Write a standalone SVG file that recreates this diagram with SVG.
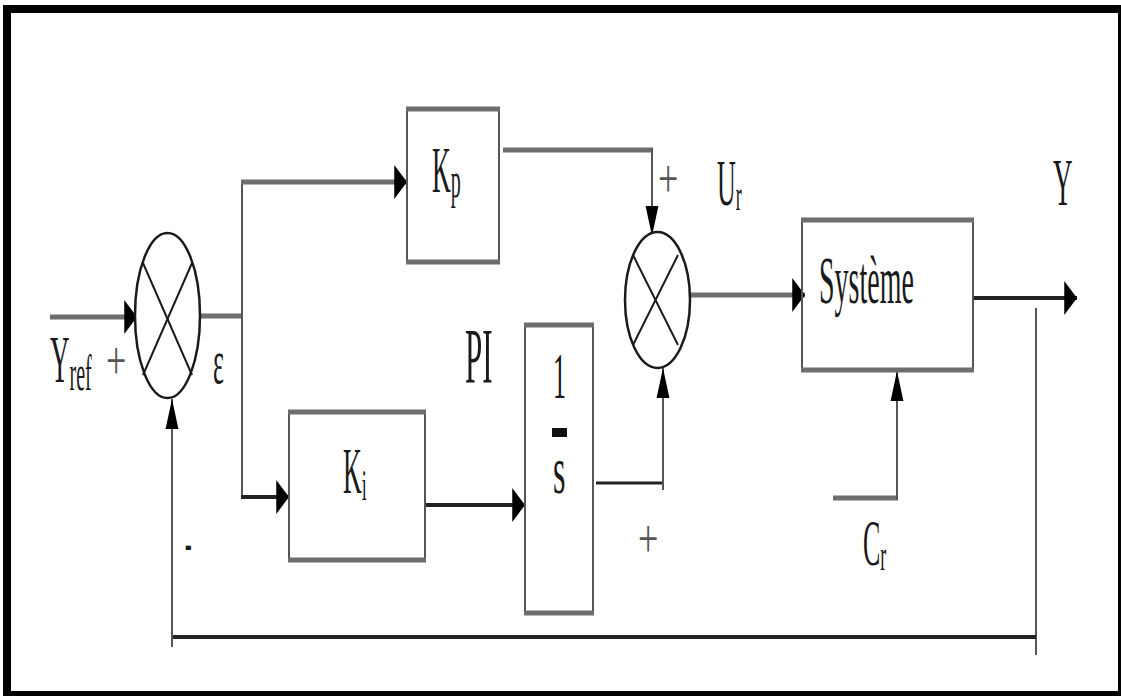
<svg xmlns="http://www.w3.org/2000/svg" width="1121" height="696" viewBox="0 0 1121 696">
  <style>
    .t { font-family: "Liberation Serif", "Times New Roman", serif; fill: #1a1a1a; }
    .thick { stroke: #6e6e6e; stroke-width: 5; fill: none; }
    .dark { stroke: #222; stroke-width: 4; fill: none; }
    .thin { stroke: #555; stroke-width: 2; fill: none; }
    .side { stroke: #555; stroke-width: 2; fill: none; }
    .edge { stroke: #6e6e6e; stroke-width: 5; fill: none; }
    .sum { stroke: #1a1a1a; stroke-width: 2.5; fill: #fff; }
    .cross { stroke: #1a1a1a; stroke-width: 2; }
    .plus { font-family: "Liberation Serif", "Times New Roman", serif; fill: #555; font-size: 36px; }
  </style>
  <defs>
    <marker id="ah" markerUnits="userSpaceOnUse" markerWidth="14" markerHeight="34" viewBox="0 0 12 32" refX="12" refY="16" orient="auto">
      <path d="M0,0 L12,16 L0,32 Z" fill="#000"/>
    </marker>
    <marker id="av" markerUnits="userSpaceOnUse" markerWidth="30" markerHeight="14" viewBox="0 0 28 12" refX="28" refY="6" orient="auto">
      <path d="M0,0 L28,6 L0,12 Z" fill="#000"/>
    </marker>
  </defs>
  <rect x="0" y="0" width="1121" height="696" fill="#fff"/>
  <rect x="7" y="9" width="1115" height="686" fill="none" stroke="#000" stroke-width="8"/>

  <g id="connectors">
    <line class="thick" x1="50" y1="317" x2="137" y2="317" marker-end="url(#ah)"/>
    <line class="thick" x1="200" y1="316" x2="243" y2="316"/>
    <line class="thin" x1="242" y1="181" x2="242" y2="498"/>
    <line class="thick" x1="241" y1="182" x2="407" y2="182" marker-end="url(#ah)"/>
    <line class="dark" x1="241" y1="497" x2="289" y2="497" marker-end="url(#ah)"/>
    <line class="thick" x1="503" y1="150" x2="653" y2="150"/>
    <line class="thin" x1="652" y1="148" x2="652" y2="236" marker-end="url(#av)"/>
    <line class="dark" x1="425" y1="505" x2="525" y2="505" marker-end="url(#ah)"/>
    <line class="dark" x1="596" y1="483" x2="664" y2="483" style="stroke-width:3"/>
    <line class="thin" x1="663" y1="490" x2="663" y2="368" marker-end="url(#av)"/>
    <line class="thick" x1="690" y1="295" x2="805" y2="295" marker-end="url(#ah)"/>
    <line class="dark" x1="973" y1="298" x2="1077" y2="298" marker-end="url(#ah)"/>
    <line class="thin" x1="1036" y1="308" x2="1036" y2="655"/>
    <line class="dark" x1="1036" y1="637" x2="172" y2="637"/>
    <line class="thin" x1="172" y1="647" x2="172" y2="399" marker-end="url(#av)"/>
    <line class="thick" x1="833" y1="498" x2="898" y2="498"/>
    <line class="thin" x1="897" y1="500" x2="897" y2="371" marker-end="url(#av)"/>
  </g>

  <g id="sum1">
    <ellipse class="sum" cx="167.5" cy="315.5" rx="32.5" ry="82.5"/>
    <line class="cross" x1="143" y1="263" x2="192" y2="375"/>
    <line class="cross" x1="192" y1="263" x2="143" y2="375"/>
  </g>

  <g id="sum2">
    <ellipse class="sum" cx="657.5" cy="300" rx="32.5" ry="68"/>
    <line class="cross" x1="633" y1="255" x2="678" y2="345"/>
    <line class="cross" x1="678" y1="255" x2="633" y2="345"/>
  </g>

  <g id="kp">
    <rect x="407" y="109" width="92" height="153" fill="#fff" class="side"/>
    <line class="edge" x1="406" y1="109" x2="500" y2="109"/>
    <line class="edge" x1="406" y1="262" x2="500" y2="262"/>
    <text class="t" transform="translate(432,192) scale(1,2.5)" font-size="26">K<tspan font-size="20" dy="2">p</tspan></text>
  </g>

  <g id="ki">
    <rect x="289" y="412" width="136" height="148" fill="#fff" class="side"/>
    <line class="edge" x1="288" y1="412" x2="426" y2="412"/>
    <line class="edge" x1="288" y1="560" x2="426" y2="560"/>
    <text class="t" transform="translate(343,493) scale(1,2.5)" font-size="26">K<tspan font-size="18" dy="2.8">i</tspan></text>
  </g>

  <g id="integrator">
    <rect x="525" y="325" width="68" height="288" fill="#fff" class="side"/>
    <line class="edge" x1="524" y1="325" x2="594" y2="325"/>
    <line class="edge" x1="524" y1="613" x2="594" y2="613"/>
    <text class="t" transform="translate(553,398) scale(1,2.5)" font-size="26">1</text>
    <rect x="552" y="428" width="15" height="9" fill="#111"/>
    <text class="t" transform="translate(553,493) scale(1,2.1)" font-size="32">s</text>
  </g>

  <g id="systeme">
    <rect x="802" y="220" width="171" height="150" fill="#fff" class="side"/>
    <line class="edge" x1="801" y1="220" x2="974" y2="220"/>
    <line class="edge" x1="801" y1="370" x2="974" y2="370"/>
    <text class="t" transform="translate(819,303) scale(1,2.4)" font-size="28">Système</text>
  </g>

  <g id="labels">
    <text class="t" transform="translate(50,382) scale(1,2.5)" font-size="27">Y<tspan font-size="20" dy="3.2">ref</tspan></text>
    <text class="plus" transform="translate(106,379) scale(1,1.5)">+</text>
    <text class="t" transform="translate(213,383) scale(1,2.4)" font-size="26">ε</text>
    <text class="t" transform="translate(185,560) scale(1,2.5)" font-size="20" font-weight="bold">-</text>
    <text class="t" transform="translate(465,382) scale(1,2.5)" font-size="31">PI</text>
    <text class="plus" transform="translate(638,557) scale(1,1.5)">+</text>
    <text class="plus" transform="translate(658,197) scale(1,1.5)">+</text>
    <text class="t" transform="translate(717,205) scale(1,2.5)" font-size="26">U<tspan font-size="18" dy="2">r</tspan></text>
    <text class="t" transform="translate(1053,205) scale(1,2.5)" font-size="27">Y</text>
    <text class="t" transform="translate(863,565) scale(1,2.5)" font-size="26">C<tspan font-size="18" dy="2">r</tspan></text>
  </g>
</svg>
